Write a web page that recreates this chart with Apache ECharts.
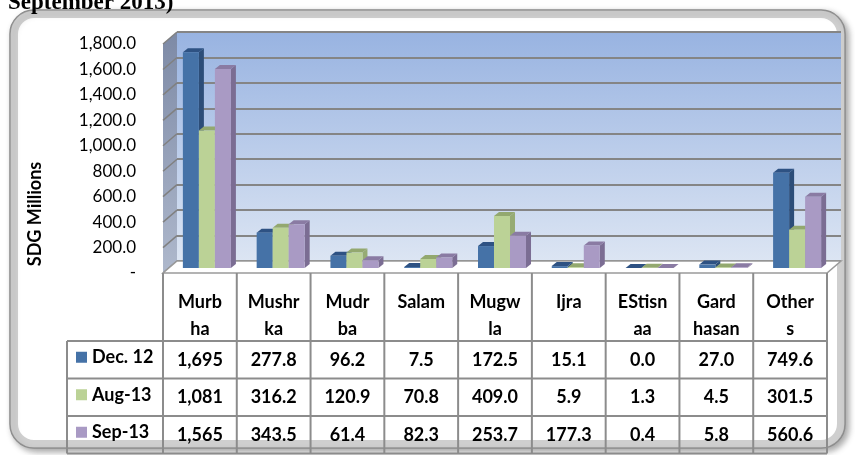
<!DOCTYPE html>
<html>
<head>
<meta charset="utf-8">
<script src="https://cdn.jsdelivr.net/npm/echarts@6/dist/echarts.min.js"></script>
<style>
  html, body { margin: 0; padding: 0; background: #fff; }
  #chart { width: 855px; height: 455px; }
</style>
</head>
<body>
<div id="chart"></div>
<script>
// data
const categories = ['Murb\nha', 'Mushr\nka', 'Mudr\nba', 'Salam', 'Mugw\nla', 'Ijra', 'EStisn\naa', 'Gard\nhasan', 'Other\ns'];
const seriesNames = ['Dec. 12', 'Aug-13', 'Sep-13'];
const dec12 = [1695, 277.8, 96.2, 7.5, 172.5, 15.1, 0.0, 27.0, 749.6];
const aug13 = [1081, 316.2, 120.9, 70.8, 409.0, 5.9, 1.3, 4.5, 301.5];
const sep13 = [1565, 343.5, 61.4, 82.3, 253.7, 177.3, 0.4, 5.8, 560.6];
const yTicks = [0, 200, 400, 600, 800, 1000, 1200, 1400, 1600, 1800];

const Y_MAX = 1800;
const DX = 14, DY = -12;          // depth of the 3d box
const BAR_D = [5, -4];            // depth of a single bar
const LINE = '#8c8c8c';
const FONT = 'Lato, "Open Sans", sans-serif';

// front, side, top colours per series
const palette = [
  ['#4572a7', '#2c4d78', '#2e5283'],
  ['#bbd296', '#96ab74', '#93a86f'],
  ['#a99ac4', '#7b6d93', '#8a7ba3']
];

const chartDom = document.getElementById('chart');
const chart = echarts.init(chartDom, null, { renderer: 'canvas' });

function fmtCell(v) {
  return v >= 1000 ? v.toLocaleString('en-US', { maximumFractionDigits: 0 }) : v.toFixed(1);
}

function renderWalls(params, api) {
  const band = api.size([1, 0])[0];
  const x0 = api.coord([0, 0])[0] - band / 2;
  const x1 = api.coord([categories.length - 1, 0])[0] + band / 2;
  const yb = api.coord([0, 0])[1];
  const yt = api.coord([0, Y_MAX])[1];
  const children = [{
    type: 'polygon',
    shape: { points: [[x0, yt], [x0 + DX, yt + DY], [x0 + DX, yb + DY], [x0, yb]] },
    style: {
      fill: new echarts.graphic.LinearGradient(0, 0, 0, 1, [
        { offset: 0, color: '#7d8aa6' },
        { offset: 1, color: '#aeb8cc' }
      ])
    }
  }];
  yTicks.forEach(v => {
    const y = api.coord([0, v])[1];
    children.push({
      type: 'line',
      shape: { x1: x0, y1: y, x2: x0 + DX, y2: y + DY },
      style: { stroke: '#808080', lineWidth: 1.5 }
    });
  });
  children.push({
    type: 'polygon',
    shape: { points: [[x0, yb], [x1, yb], [x1 + DX, yb + DY], [x0 + DX, yb + DY]] },
    style: { fill: '#ffffff', stroke: '#9a9a9a', lineWidth: 1.5 }
  });
  return { type: 'group', children };
}

function makeBarRenderer(si) {
  return function (params, api) {
    const band = api.size([1, 0])[0];
    const w = band * 0.217;
    const c = api.coord([api.value(0), api.value(1)]);
    const base = api.coord([api.value(0), 0]);
    const left = c[0] - w * 1.5 + si * w + DX / 2;
    const top = c[1] + DY / 2 + 1;
    const bottom = base[1] + DY / 2 + 1;
    const [dx, dy] = BAR_D;
    const col = palette[si];
    return {
      type: 'group',
      children: [
        {
          type: 'polygon',
          shape: { points: [[left + w, top], [left + w + dx, top + dy], [left + w + dx, bottom + dy], [left + w, bottom]] },
          style: { fill: col[1] }
        },
        {
          type: 'polygon',
          shape: { points: [[left, top], [left + w, top], [left + w + dx, top + dy], [left + dx, top + dy]] },
          style: { fill: col[2] }
        },
        {
          type: 'rect',
          shape: { x: left, y: top, width: w, height: bottom - top },
          style: { fill: col[0] }
        }
      ]
    };
  };
}

const ROW_TOP = 341, ROW_H = 37.5, LABEL_LEFT = 67;
const rows = [dec12, aug13, sep13];

function renderTable(params, api) {
  const i = api.value(0);
  const band = api.size([1, 0])[0];
  const cx = api.coord([i, 0])[0];
  const yb = api.coord([i, 0])[1];
  const bottom = ROW_TOP + ROW_H * rows.length;
  const left = cx - band / 2, right = cx + band / 2;
  const children = [];
  const lineStyle = { stroke: LINE, lineWidth: 2 };
  children.push({ type: 'line', shape: { x1: left, y1: yb, x2: left, y2: bottom }, style: lineStyle });
  if (i === categories.length - 1) {
    children.push({ type: 'line', shape: { x1: right, y1: yb, x2: right, y2: bottom }, style: lineStyle });
  }
  children.push({
    type: 'text',
    style: {
      x: cx, y: yb + 16, text: categories[i], align: 'center', verticalAlign: 'top',
      font: 'bold 18px ' + FONT, lineHeight: 27, fill: '#000'
    }
  });
  rows.forEach((r, k) => {
    children.push({
      type: 'text',
      style: {
        x: cx, y: ROW_TOP + ROW_H * (k + 0.5), text: fmtCell(r[i]), align: 'center', verticalAlign: 'middle',
        font: 'bold 18px ' + FONT, fill: '#000'
      }
    });
  });
  if (i === 0) {
    const x1 = api.coord([categories.length - 1, 0])[0] + band / 2;
    for (let k = 0; k <= rows.length; k++) {
      const y = ROW_TOP + ROW_H * k;
      children.push({ type: 'line', shape: { x1: LABEL_LEFT, y1: y, x2: x1, y2: y }, style: lineStyle });
    }
    children.push({ type: 'line', shape: { x1: LABEL_LEFT, y1: ROW_TOP, x2: LABEL_LEFT, y2: bottom }, style: lineStyle });
    // legend keys inside the table
    seriesNames.forEach((name, k) => {
      const cy = ROW_TOP + ROW_H * (k + 0.5) - 2.5;
      children.push({ type: 'rect', shape: { x: 76, y: cy - 5.5, width: 11, height: 11 }, style: { fill: palette[k][0] } });
      children.push({
        type: 'text',
        style: { x: 92, y: cy, text: name, align: 'left', verticalAlign: 'middle', font: 'bold 18px ' + FONT, fill: '#000' }
      });
    });
  }
  return { type: 'group', children };
}

const barSeries = [dec12, aug13, sep13].map((vals, si) => ({
  name: seriesNames[si],
  type: 'custom',
  xAxisIndex: 0,
  yAxisIndex: 0,
  clip: false,
  z: 5,
  itemStyle: { color: palette[si][0] },
  renderItem: makeBarRenderer(si),
  encode: { x: 0, y: 1 },
  data: vals.map((v, i) => [i, v])
}));

const option = {
  animation: false,
  backgroundColor: '#fff',
  textStyle: { fontFamily: FONT },
  graphic: [
    {
      type: 'rect', z: -10,
      shape: { x: 10, y: 10, width: 835, height: 438, r: 24 },
      style: {
        fill: '#fff', stroke: '#8a8a8a', lineWidth: 1.5,
        shadowBlur: 6, shadowColor: 'rgba(0,0,0,0.35)', shadowOffsetX: 3, shadowOffsetY: 3
      }
    },
    {
      type: 'rect', z: -9,
      shape: { x: 14, y: 14, width: 827, height: 430, r: 20 },
      style: { fill: 'none', stroke: 'rgba(160,160,160,0.5)', lineWidth: 8 }
    },
    {
      type: 'text', z: 10,
      style: { x: 8, y: 15, text: 'September 2013)', verticalAlign: 'bottom', font: 'bold 23px "Liberation Serif", serif', fill: '#000' }
    },
    {
      type: 'text', x: 35, y: 214, rotation: Math.PI / 2,
      style: { text: 'SDG Millions', font: 'bold 18px ' + FONT, fill: '#000', align: 'center', verticalAlign: 'middle' }
    }
  ],
  grid: [
    { left: 163, right: 28, top: 44, bottom: 182 },
    {
      left: 163 + DX, right: 28 - DX, top: 44 + DY, bottom: 182 - DY, show: true, borderWidth: 0,
      backgroundColor: new echarts.graphic.LinearGradient(0, 0, 0, 1, [
        { offset: 0, color: '#98b3e1' },
        { offset: 1, color: '#dce5f3' }
      ])
    }
  ],
  xAxis: [
    { type: 'category', gridIndex: 0, data: categories, axisLine: { show: false }, axisTick: { show: false }, axisLabel: { show: false } },
    { type: 'category', gridIndex: 1, data: categories, show: false }
  ],
  yAxis: [
    {
      type: 'value', gridIndex: 0, min: 0, max: Y_MAX, interval: 200,
      axisLine: { show: false }, axisTick: { show: false }, splitLine: { show: false },
      axisLabel: {
        margin: 27, fontSize: 17, color: '#000', fontFamily: FONT,
        formatter: v => v === 0 ? '-' : v.toLocaleString('en-US', { minimumFractionDigits: 1, maximumFractionDigits: 1 })
      }
    },
    {
      type: 'value', gridIndex: 1, min: 0, max: Y_MAX, interval: 200,
      axisLine: { show: false }, axisTick: { show: false }, axisLabel: { show: false },
      splitLine: { show: true, lineStyle: { color: '#858585', width: 2 } }
    }
  ],
  series: [
    {
      type: 'custom', name: 'walls', xAxisIndex: 0, yAxisIndex: 0, clip: false, z: 3, silent: true,
      renderItem: renderWalls, encode: { x: 0, y: 1 }, data: [[0, 0]]
    },
    ...barSeries,
    {
      type: 'custom', name: 'table', xAxisIndex: 0, yAxisIndex: 0, clip: false, z: 4, silent: true,
      renderItem: renderTable, encode: { x: 0, y: 1 }, data: categories.map((c, i) => [i, 0])
    }
  ]
};

chart.setOption(option);
</script>
</body>
</html>
